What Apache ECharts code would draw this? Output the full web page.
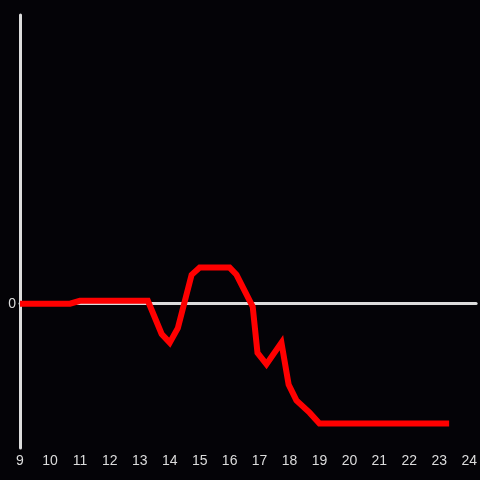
<!DOCTYPE html>
<html>
<head>
<meta charset="utf-8">
<script src="https://cdn.jsdelivr.net/npm/echarts@6/dist/echarts.min.js"></script>
<style>
  html, body { margin: 0; padding: 0; background: #040307; overflow: hidden; }
  #chart { width: 480px; height: 480px; }
</style>
</head>
<body>
<div id="chart"></div>
<script>
// hours on the x axis
var hours = [9, 10.67, 11, 13.27, 13.73, 14.0, 14.27, 14.73, 15.0, 16.0, 16.23, 16.77, 16.93, 17.23, 17.73, 17.97, 18.23, 18.67, 19.0, 23.33];
var values = [0, 0, 0.02, 0.02, -0.21, -0.27, -0.17, 0.2, 0.25, 0.25, 0.2, -0.02, -0.34, -0.42, -0.27, -0.56, -0.67, -0.755, -0.83, -0.83];
var yLabels = [0];

var chart = echarts.init(document.getElementById('chart'));

var points = [];
hours.forEach(function (h, i) {
	points.push([h, values[i]]);
});

var axisColor = '#dcdcdc';
var xMax = 24.23;

chart.setOption({
	backgroundColor: '#040307',
	animation: false,
	grid: {
		left: 20,
		right: 0,
		top: 15,
		bottom: 32
	},
	xAxis: [
		{
			type: 'value',
			min: 9,
			max: xMax,
			interval: 1,
			position: 'bottom',
			axisLine: { show: false, onZero: false },
			axisTick: { show: false },
			splitLine: { show: false },
			axisLabel: {
				show: true,
				color: axisColor,
				fontSize: 14,
				fontFamily: 'Liberation Sans, sans-serif',
				margin: 6,
				formatter: function (v) {
					return Math.abs(v - Math.round(v)) < 1e-6 ? String(Math.round(v)) : '';
				}
			}
		},
		{
			// zero line
			type: 'value',
			min: 9,
			max: xMax,
			position: 'bottom',
			axisLine: {
				show: true,
				onZero: true,
				lineStyle: { color: axisColor, width: 3 }
			},
			axisTick: { show: false },
			axisLabel: { show: false },
			splitLine: { show: false }
		}
	],
	yAxis: {
		type: 'value',
		min: -1,
		max: 2,
		interval: 1,
		axisLine: {
			show: true,
			onZero: false,
			lineStyle: { color: axisColor, width: 3 }
		},
		axisTick: { show: false },
		splitLine: { show: false },
		axisLabel: {
			color: axisColor,
			fontSize: 14,
			fontFamily: 'Liberation Sans, sans-serif',
			margin: 4,
			formatter: function (v) {
				return yLabels.indexOf(v) >= 0 ? String(v) : '';
			}
		}
	},
	series: [
		{
			type: 'line',
			xAxisIndex: 0,
			data: points,
			symbol: 'none',
			smooth: false,
			lineStyle: { color: '#ff0000', width: 6, cap: 'butt', join: 'miter' }
		}
	]
});
</script>
</body>
</html>
